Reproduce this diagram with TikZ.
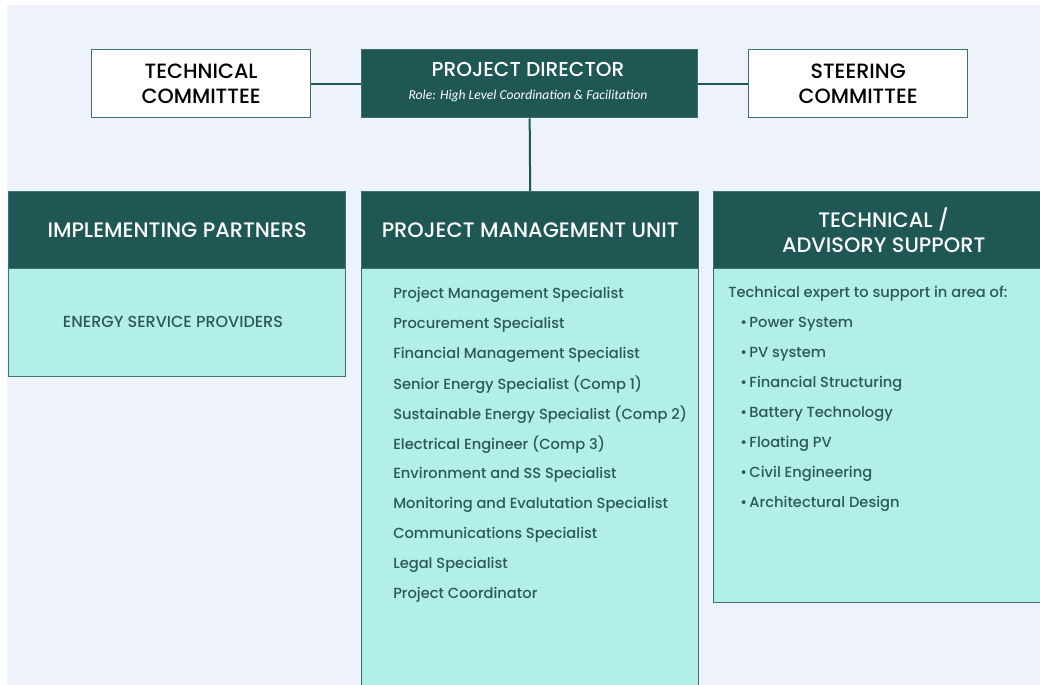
\documentclass[tikz,border=0pt]{standalone}
\usepackage{fontspec}
\setmainfont{Poppins Medium}
\newfontfamily\rolefont{Carlito}
\usetikzlibrary{positioning}
\definecolor{darkteal}{HTML}{1E5753}
\definecolor{paleteal}{HTML}{B3EFEA}
\definecolor{pagebg}{HTML}{EEF2FA}
\definecolor{edgeteal}{HTML}{3E716E}
\definecolor{listtext}{HTML}{2A5956}

\tikzset{
  committee/.style={draw=edgeteal, line width=1pt, fill=white, anchor=north west,
    minimum width=164.25pt, minimum height=51pt, align=center, text=black,
    font=\fontsize{15.5}{18.5}\selectfont},
  headbox/.style={draw=edgeteal, line width=1pt, fill=darkteal, anchor=north west,
    minimum width=252.75pt, minimum height=57.75pt, align=center, text=white,
    font=\fontsize{15.7}{18.5}\selectfont},
  bodybox/.style={draw=edgeteal, line width=1pt, fill=paleteal, anchor=north west,
    minimum width=252.75pt},
  item/.style={anchor=west, text=listtext, inner sep=0pt, font=\fontsize{11}{13}\selectfont},
  link/.style={draw=darkteal, line width=1.5pt}
}

\begin{document}
\begin{tikzpicture}[x=0.75pt, y=-0.75pt]
\useasboundingbox (0,0) rectangle (1040,685);
\clip (0,0) rectangle (1040,685);
\fill[pagebg] (7,5) rectangle (1045,690);

% top row
\node[committee] (techcom) at (91,49) {TECHNICAL\\COMMITTEE};
\node[committee, fill=darkteal, text=white, minimum width=252pt] (director) at (361,49) {};
\node[text=white, font=\fontsize{15.1}{17}\selectfont] (dirtitle) at (528,69) {PROJECT DIRECTOR};
\node[text=white, font=\rolefont\itshape\fontsize{10.2}{12}\selectfont] (dirrole) at (528,96)
  {Role: High Level Coordination \& Facilitation};
\node[committee] (steercom) at (748,49) {STEERING\\COMMITTEE};

% columns
\node[headbox] (partners) at (8,191) {IMPLEMENTING PARTNERS};
\node[bodybox, minimum height=81pt] (partnersbody) at (8,268) {};
\node[item, anchor=center, font=\fontsize{12}{13}\selectfont] (esp) at (173,322) {ENERGY SERVICE PROVIDERS};

\node[headbox] (pmu) at (361,191) {PROJECT MANAGEMENT UNIT};
\node[bodybox, minimum height=320pt] (pmubody) at (361,268) {};

\node[headbox, minimum width=255pt] (advisory) at (713,191) {TECHNICAL /\\ADVISORY SUPPORT};
\node[bodybox, minimum width=255pt, minimum height=250.5pt] (advisorybody) at (713,268) {};

% connectors
\draw[link] (techcom.east) -- (director.west);
\draw[link] (director.east) -- (steercom.west);
\draw[link] (director.south) -- (pmu.north);

% unit staff
\foreach \role [count=\i from 0] in {Project Management Specialist, Procurement Specialist,
    Financial Management Specialist, Senior Energy Specialist (Comp 1),
    Sustainable Energy Specialist (Comp 2), Electrical Engineer (Comp 3),
    Environment and SS Specialist, Monitoring and Evalutation Specialist,
    Communications Specialist, Legal Specialist, Project Coordinator}
  \node[item] (staff\i) at (393,295+30*\i) {\role};

% advisory areas
\node[item] (intro) at (728,294) {Technical expert to support in area of:};
\foreach \area [count=\i from 0] in {Power System, PV system, Financial Structuring,
    Battery Technology, Floating PV, Civil Engineering, Architectural Design}
  \node[item] (area\i) at (740,324+30*\i) {\textbullet\,\area};

\end{tikzpicture}
\end{document}
